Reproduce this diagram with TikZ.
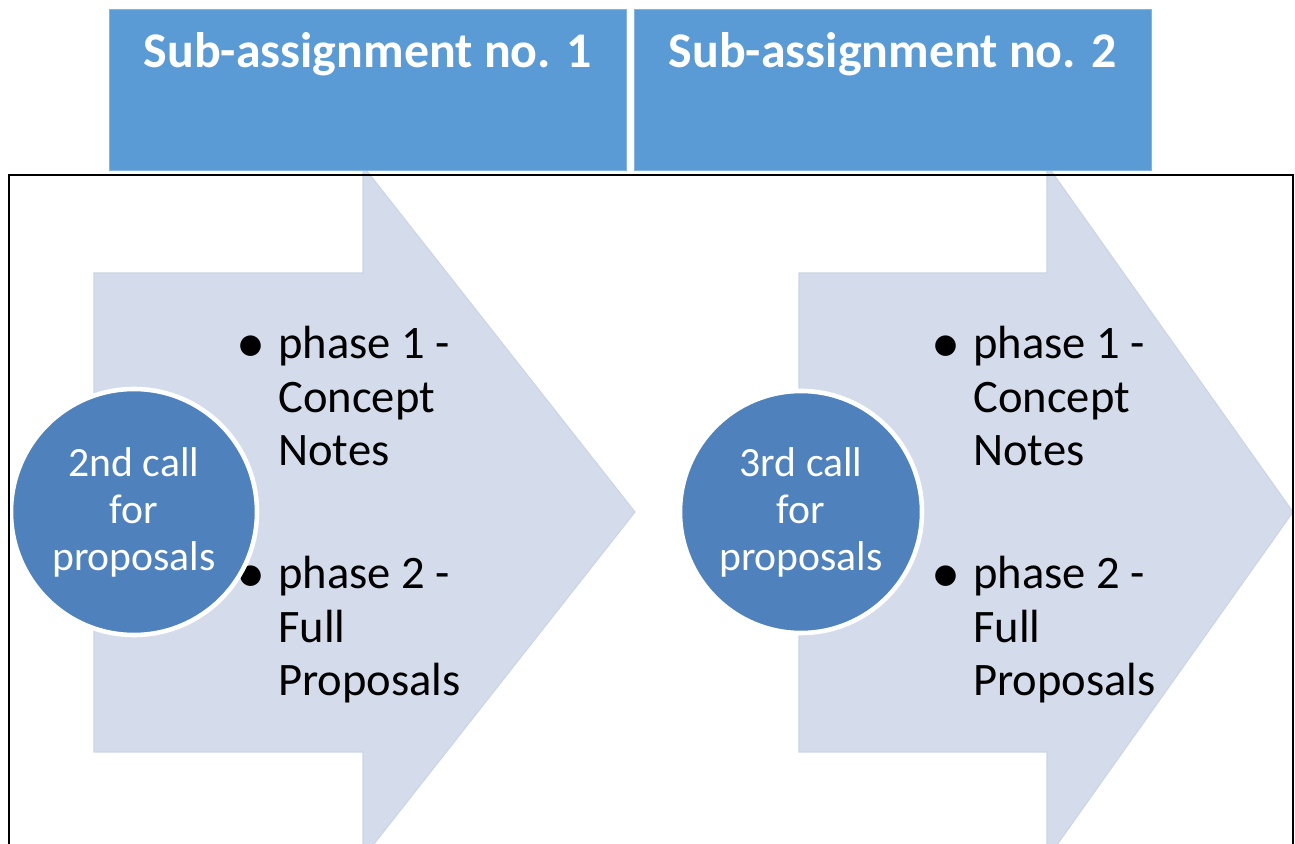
\documentclass[tikz,border=0pt]{standalone}
\usepackage{fontspec}
\setmainfont{Carlito}
\usetikzlibrary{positioning}

\definecolor{hdrblue}{RGB}{91,155,213}
\definecolor{callblue}{RGB}{79,129,189}
\definecolor{chevron}{RGB}{212,219,234}
\definecolor{chevronedge}{RGB}{204,213,231}

\newcommand{\phaseitem}{\leavevmode\llap{\raisebox{-0.07em}{\scalebox{1.25}{\textbullet}}\hspace{0.25cm}}}

\begin{document}
\begin{tikzpicture}[x=1cm,y=1cm]
\tikzset{
  hdrbox/.style={rectangle,fill=hdrblue,draw=hdrblue!75!white,line width=0.5pt,minimum width=10.34cm,minimum height=3.22cm,inner sep=0pt},
  hdrtext/.style={text=white,font=\fontsize{28.4}{32}\selectfont\bfseries,inner sep=0pt,anchor=base},
  callnode/.style={circle,fill=callblue,draw=white,line width=2.6pt,minimum size=4.86cm,inner sep=0pt,text=white,align=center,font=\fontsize{23.7}{26.7}\selectfont},
  phasetext/.style={anchor=base west,inner sep=0pt,font=\fontsize{26.5}{30.2}\selectfont},
  chevronfill/.style={fill=chevron,draw=chevronedge,line width=0.6pt,line join=miter},
  frameline/.style={draw=black,line width=1.2pt}
}
\useasboundingbox (0,0) rectangle (25.9,16.86);
\clip (0,0) rectangle (25.9,16.86);
% the two big arrows
\path[chevronfill] (1.88,11.40) -- (7.26,11.40) -- (7.26,13.54) -- (12.70,6.62) -- (7.26,-0.30) -- (7.26,1.82) -- (1.88,1.82) -- cycle;
\path[chevronfill] (15.98,11.40) -- (20.94,11.40) -- (20.94,13.56) -- (25.86,6.62) -- (20.94,-0.32) -- (20.94,1.82) -- (15.98,1.82) -- cycle;
% headers
\node[hdrbox] (hdrA) at (7.35,15.07) {};
\node[hdrbox] (hdrB) at (17.85,15.07) {};
\node[hdrtext] (hdrA-t) at ([yshift=-1.18cm]hdrA.north) {Sub-assignment no. 1};
\node[hdrtext] (hdrB-t) at ([yshift=-1.18cm]hdrB.north) {Sub-assignment no. 2};
% bullet lists
\node[phasetext] (listA1) at (5.56,9.68) {\parbox[t]{6cm}{\raggedright\phaseitem phase 1 -\\Concept\\Notes}};
\node[phasetext] (listA2) at (5.56,5.08) {\parbox[t]{6cm}{\raggedright\phaseitem phase 2 -\\Full\\Proposals}};
\node[phasetext] (listB1) at (19.46,9.68) {\parbox[t]{6cm}{\raggedright\phaseitem phase 1 -\\Concept\\Notes}};
\node[phasetext] (listB2) at (19.46,5.08) {\parbox[t]{6cm}{\raggedright\phaseitem phase 2 -\\Full\\Proposals}};
% calls
\node[callnode,minimum size=4.92cm] (callA) at (2.68,6.62) {2nd call\\for\\proposals};
\node[callnode,minimum size=4.84cm] (callB) at (16.02,6.62) {3rd call\\for\\proposals};
% outer frame, open at the bottom
\draw[frameline] (0.18,-0.5) -- (0.18,13.36) -- (25.86,13.36) -- (25.86,-0.5);
\end{tikzpicture}
\end{document}
